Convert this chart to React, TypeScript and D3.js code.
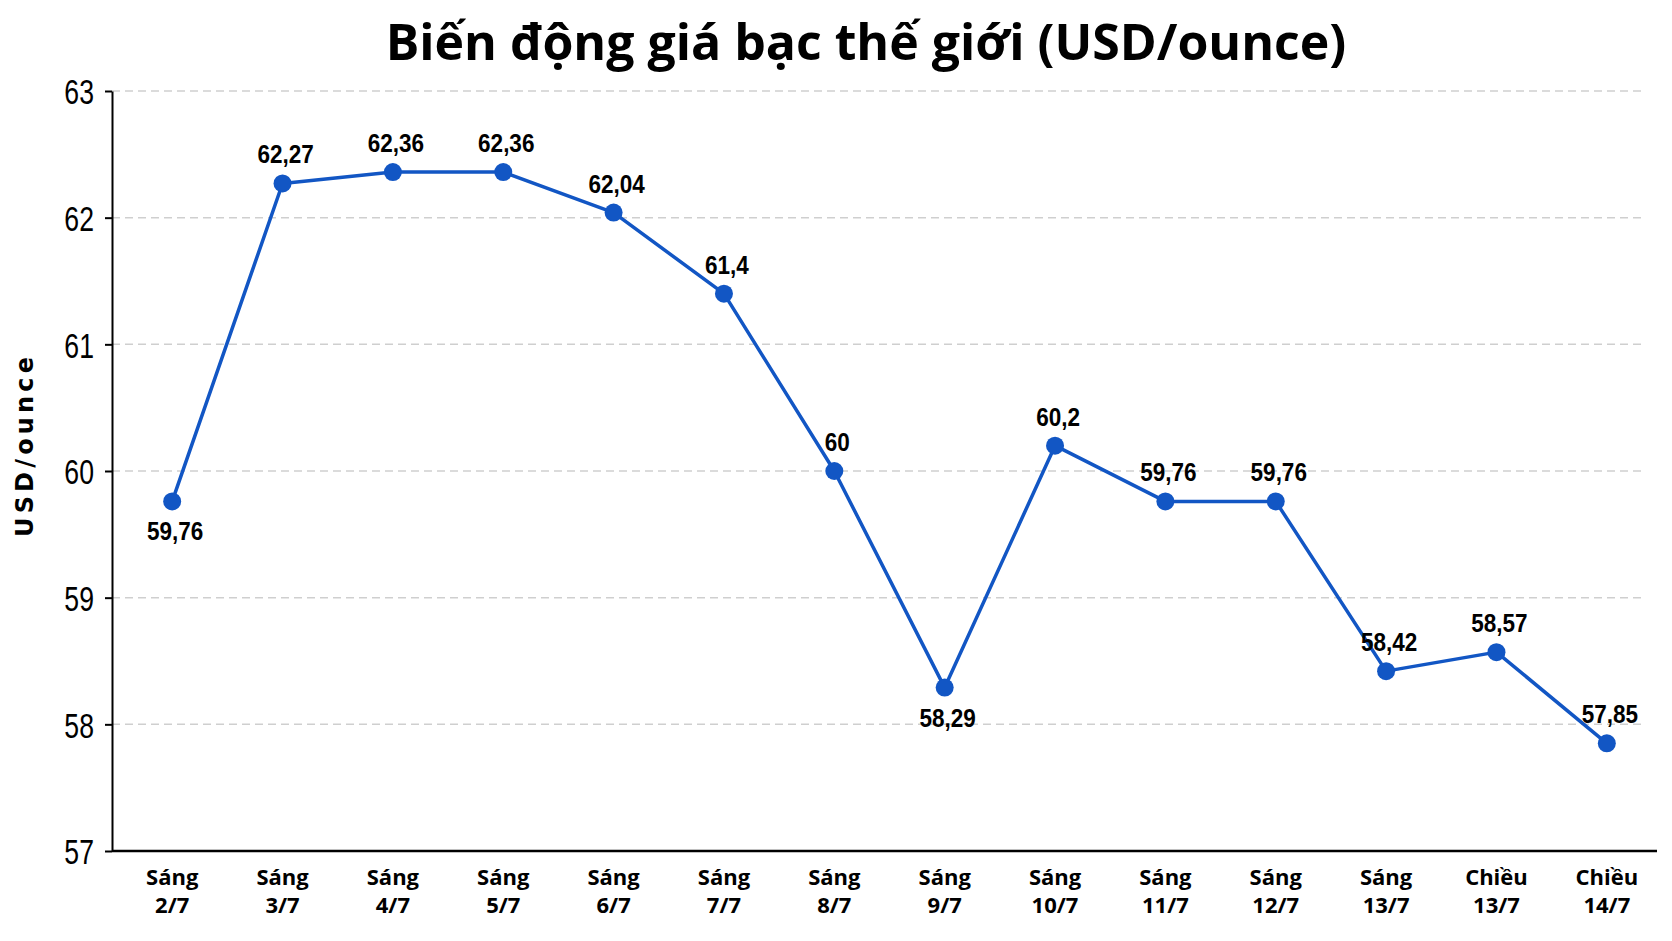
import { useEffect, useRef } from "react";
import * as d3 from "d3";

const sessions = ["Sáng", "Sáng", "Sáng", "Sáng", "Sáng", "Sáng", "Sáng", "Sáng", "Sáng", "Sáng", "Sáng", "Sáng", "Chiều", "Chiều"];
const dates = ["2/7", "3/7", "4/7", "5/7", "6/7", "7/7", "8/7", "9/7", "10/7", "11/7", "12/7", "13/7", "13/7", "14/7"];
const prices = [59.76, 62.27, 62.36, 62.36, 62.04, 61.4, 60, 58.29, 60.2, 59.76, 59.76, 58.42, 58.57, 57.85];
// labels drawn under the point instead of above
const below = [true, false, false, false, false, false, false, true, false, false, false, false, false, false];
const yTicks = [57, 58, 59, 60, 61, 62, 63];

const W = 1672;
const H = 941;
const LINE = "#1256c4";

export default function App() {
  const svgRef = useRef<SVGSVGElement>(null);

  useEffect(() => {
    document.body.style.margin = "0";
    const svg = d3.select(svgRef.current);
    svg.selectAll("*").remove();

    const left = 112, right = 1657, top = 91, bottom = 851;
    const keys = dates.map((d, i) => i);
    const x = d3.scalePoint<number>().domain(keys).range([left + 5, right + 5]).padding(0.5);
    const y = d3.scaleLinear().domain([57, 63]).range([bottom, top]);

    // no narrow font installed, so squeeze Liberation Sans horizontally
    const numFont = "'Liberation Sans', Arial, sans-serif";
    const txtFont = "'Open Sans', 'Noto Sans', sans-serif";

    svg.append("rect").attr("width", W).attr("height", H).attr("fill", "#fff");

    // title
    svg.append("text")
      .attr("x", 866).attr("y", 60)
      .attr("text-anchor", "middle")
      .attr("font-family", txtFont).attr("font-weight", 700).attr("font-size", 50)
      .attr("fill", "#000")
      .text("Biến động giá bạc thế giới (USD/ounce)");

    // grid
    svg.append("g").selectAll("line")
      .data(yTicks.slice(1))
      .join("line")
      .attr("x1", left).attr("x2", 1645)
      .attr("y1", (d) => y(d)).attr("y2", (d) => y(d))
      .attr("stroke", "#cfcfcf").attr("stroke-width", 1.5).attr("stroke-dasharray", "8,5");

    // y axis
    const ya = svg.append("g").attr("transform", `translate(${left},0)`)
      .call(d3.axisLeft(y).tickValues(yTicks).tickFormat(d3.format("d")).tickSize(7).tickPadding(10).tickSizeOuter(0));
    ya.select(".domain").attr("stroke", "#000").attr("stroke-width", 2);
    ya.selectAll(".tick line").attr("stroke", "#000").attr("stroke-width", 2);
    ya.selectAll(".tick text")
      .attr("x", 0)
      .attr("transform", "translate(-18,0) scale(0.74,1)")
      .attr("font-family", numFont).attr("font-size", 36).attr("fill", "#000")
      .attr("dy", "0.36em");

    // x axis line
    svg.append("line")
      .attr("x1", left).attr("x2", right).attr("y1", bottom).attr("y2", bottom)
      .attr("stroke", "#000").attr("stroke-width", 2.5);

    // x labels
    const xl = svg.append("g").selectAll("text")
      .data(keys)
      .join("text")
      .attr("x", (d) => x(d)!)
      .attr("y", 885)
      .attr("text-anchor", "middle")
      .attr("font-family", txtFont).attr("font-weight", 700).attr("font-size", 22)
      .attr("fill", "#000");
    xl.append("tspan").attr("x", (d) => x(d)!).text((d) => sessions[d]);
    xl.append("tspan").attr("x", (d) => x(d)!).attr("dy", 28).text((d) => dates[d]);

    // y title
    svg.append("text")
      .attr("transform", "translate(33,447) rotate(-90)")
      .attr("text-anchor", "middle")
      .attr("font-family", "'DejaVu Sans', sans-serif").attr("font-weight", 700).attr("font-size", 24)
      .attr("textLength", 180).attr("lengthAdjust", "spacing")
      .attr("fill", "#000")
      .text("USD/ounce");

    // line
    const line = d3.line<number>().x((d, i) => x(i)!).y((d) => y(d));
    svg.append("path")
      .datum(prices)
      .attr("d", line)
      .attr("fill", "none").attr("stroke", LINE).attr("stroke-width", 3.5)
      .attr("stroke-linejoin", "round");

    svg.append("g").selectAll("circle")
      .data(prices)
      .join("circle")
      .attr("cx", (d, i) => x(i)!).attr("cy", (d) => y(d)).attr("r", 9)
      .attr("fill", LINE);

    // value labels
    svg.append("g").selectAll("text")
      .data(prices)
      .join("text")
      .attr("transform", (d, i) => `translate(${x(i)! + 3},${y(d) + (below[i] ? 39 : -20)}) scale(0.9,1)`)
      .attr("text-anchor", "middle")
      .attr("font-family", numFont).attr("font-weight", 700).attr("font-size", 25)
      .attr("fill", "#000")
      .text((d) => String(d).replace(".", ","));
  }, []);

  return <svg ref={svgRef} width={W} height={H} style={{ display: "block" }} />;
}
